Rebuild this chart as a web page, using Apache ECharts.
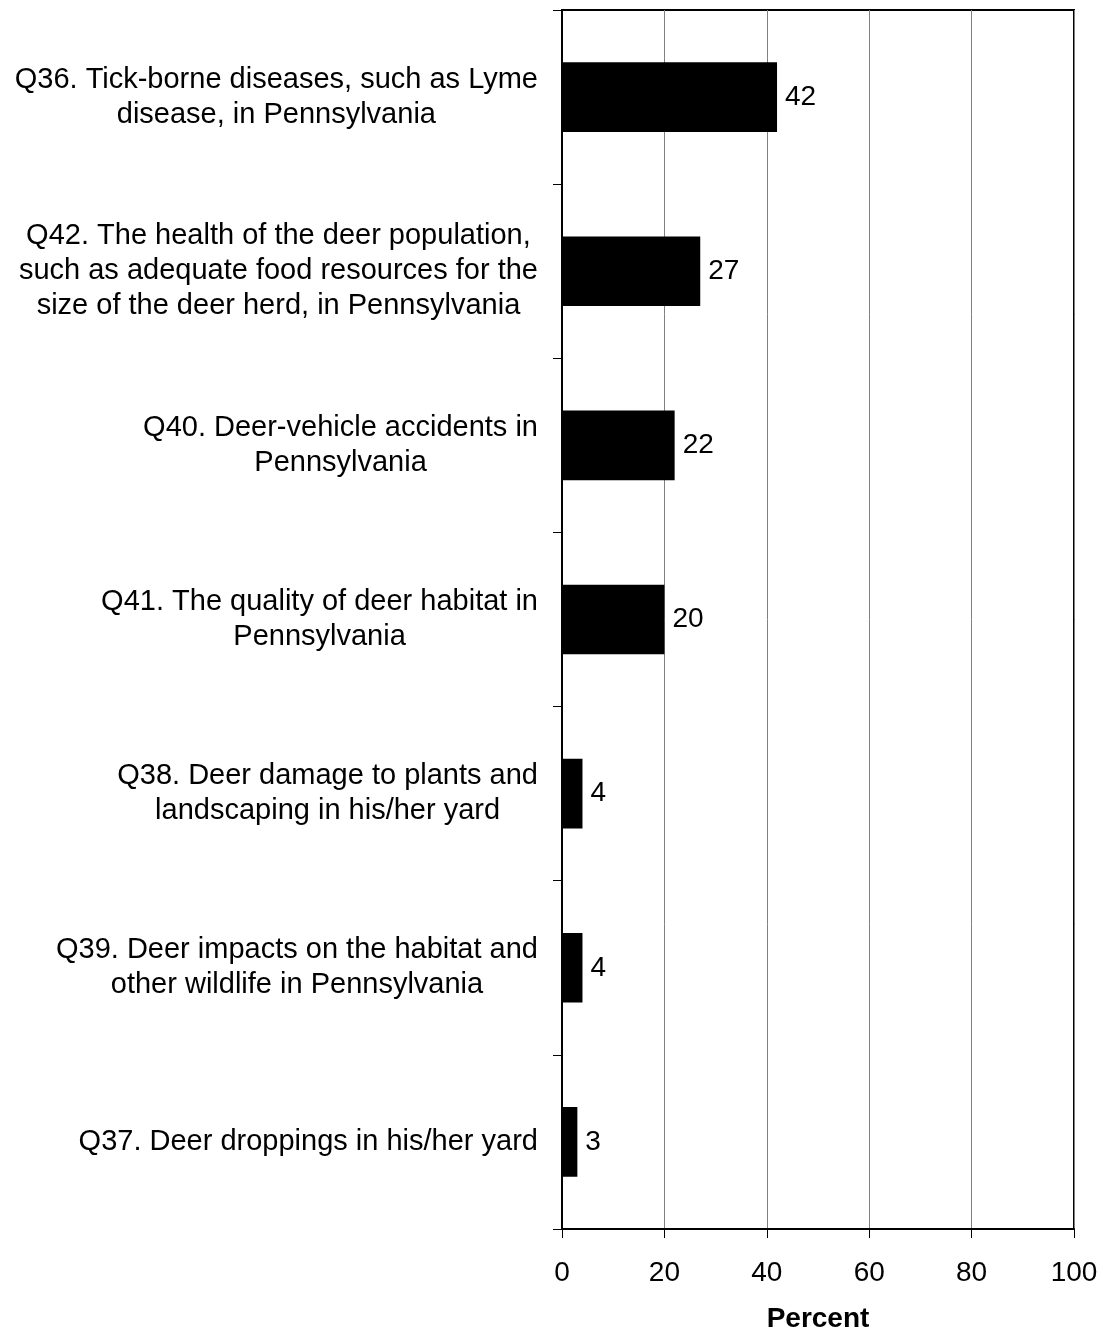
<!DOCTYPE html>
<html>
<head>
<meta charset="utf-8">
<script src="https://cdn.jsdelivr.net/npm/echarts@6/dist/echarts.min.js"></script>
<style>
  html, body { margin: 0; padding: 0; background: #fff; }
  #chart { width: 1103px; height: 1338px; }
</style>
</head>
<body>
<div id="chart"></div>
<script>
// Survey items (top to bottom), with their line breaks
const categories = [
  "Q36. Tick-borne diseases, such as Lyme\ndisease, in Pennsylvania",
  "Q42. The health of the deer population,\nsuch as adequate food resources for the\nsize of the deer herd, in Pennsylvania",
  "Q40. Deer-vehicle accidents in\nPennsylvania",
  "Q41. The quality of deer habitat in\nPennsylvania",
  "Q38. Deer damage to plants and\nlandscaping in his/her yard",
  "Q39. Deer impacts on the habitat and\nother wildlife in Pennsylvania",
  "Q37. Deer droppings in his/her yard"
];
// Percent of respondents
const percentValues = [42, 27, 22, 20, 4, 4, 3];
const xAxisTitle = "Percent";

const FONT = "'Liberation Sans', Arial, sans-serif";

const chart = echarts.init(document.getElementById('chart'), null, { renderer: 'canvas' });

chart.setOption({
  animation: false,
  backgroundColor: '#ffffff',
  grid: {
    left: 562, right: 29, top: 10, bottom: 106,
    show: true, borderColor: '#000', borderWidth: 2,
    containLabel: false
  },
  xAxis: {
    type: 'value',
    min: 0, max: 100, interval: 20,
    name: xAxisTitle,
    nameLocation: 'middle',
    nameGap: 76,
    nameTextStyle: { fontFamily: FONT, fontSize: 28, fontWeight: 'bold', color: '#000' },
    axisLine: { show: true, lineStyle: { color: '#000', width: 2 } },
    axisTick: { show: true, length: 9, lineStyle: { color: '#000', width: 1 } },
    axisLabel: { margin: 30, fontFamily: FONT, fontSize: 28, color: '#000' },
    splitLine: { show: true, lineStyle: { color: '#808080', width: 1 } }
  },
  yAxis: {
    type: 'category',
    inverse: true,
    data: categories,
    axisLine: { show: true, lineStyle: { color: '#000', width: 2 } },
    axisTick: { show: true, length: 9, alignWithLabel: false, lineStyle: { color: '#000', width: 1 } },
    axisLabel: {
      margin: 24,
      align: 'right',
      fontFamily: FONT,
      fontSize: 29,
      color: '#000',
      lineHeight: 35,
      formatter: function (v) {
        return v.split('\n').map(function (l) { return '{c|' + l + '}'; }).join('\n');
      },
      rich: {
        c: { align: 'center', fontFamily: FONT, fontSize: 29, lineHeight: 35, color: '#000' }
      }
    },
    splitLine: { show: false }
  },
  series: [{
    type: 'bar',
    data: percentValues,
    barWidth: '40%',
    itemStyle: { color: '#000' },
    label: {
      show: true,
      position: 'right',
      distance: 8,
      fontFamily: FONT,
      fontSize: 28,
      color: '#000'
    }
  }]
});
</script>
</body>
</html>
